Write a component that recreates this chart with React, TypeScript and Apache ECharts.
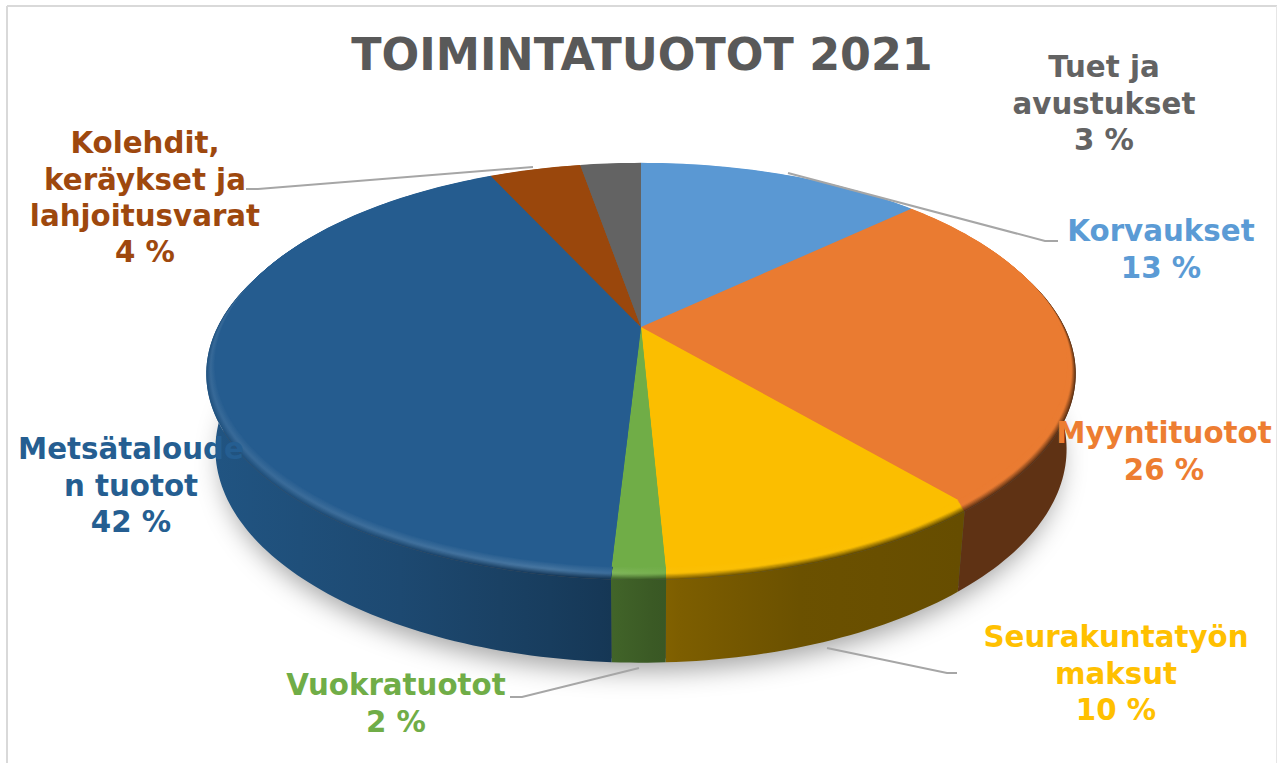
import React, { useEffect, useRef } from "react";
import * as echarts from "echarts";

const chartTitle = "TOIMINTATUOTOT 2021";
// clockwise from twelve o'clock
const categories = ["Korvaukset", "Myyntituotot", "Seurakuntatyön maksut", "Vuokratuotot", "Metsätalouden tuotot", "Kolehdit, keräykset ja lahjoitusvarat", "Tuet ja avustukset"];
const values = [13, 25.75, 10.49, 1.67, 42.19, 4.15, 2.75];
const percentLabels = [13, 26, 10, 2, 42, 4, 3];
const wrappedNames = ["Korvaukset", "Myyntituotot", "Seurakuntatyön\nmaksut", "Vuokratuotot", "Metsätaloude\nn tuotot", "Kolehdit,\nkeräykset ja\nlahjoitusvarat", "Tuet ja\navustukset"];
const colors = ["#5B9BD5", "#ED7D31", "#FFC000", "#70AD47", "#255E91", "#9E480E", "#636363"];
const faceColors = ["#5A98D3", "#EA7B31", "#FBBE00", "#70AD47", "#255C8F", "#9A470C", "#636363"];
const labelAnchors = [[1161, 213], [1164, 415], [1116, 619], [396, 667], [131, 431], [145, 125], [1104, 49]];
const leaders = [
  [[788, 173], [1045, 241], [1058, 241]],
  null,
  [[827, 648], [947, 673], [957, 673]],
  [[639, 668], [522, 697], [510, 697]],
  null,
  [[533, 167], [258, 189], [246, 189]],
  null,
];

// projection of the tilted disc
const CX = 641, CY = 327, K = 0.188;
const FACE = { a: 418.6, b: 195, cy: CY };
const BASE = { a: 418, b: 206, cy: 409 };
const RIM_GROW = 0.02, RIM_DROP = 8, LAYERS = 12;

const total = values.reduce((s, v) => s + v, 0);
const startOf = (i: number) => values.slice(0, i).reduce((s, v) => s + v, 0) / total * Math.PI * 2;

function project(theta: number, a: number, b: number, cy: number, rho = 1) {
  const u = Math.sin(theta), v = -Math.cos(theta);
  const s = 1 / (1 - K * v);
  return [CX + rho * a * u * s, cy + rho * b * v * s];
}
function arc(t0: number, t1: number, a: number, b: number, cy: number, rho = 1) {
  const n = Math.max(2, Math.ceil((t1 - t0) / 0.02));
  const pts: number[][] = [];
  for (let i = 0; i <= n; i++) pts.push(project(t0 + (t1 - t0) * i / n, a, b, cy, rho));
  return pts;
}

const rgb = (h: string) => [1, 3, 5].map((i) => parseInt(h.slice(i, i + 2), 16));
const mix = (c: number[], d: number[], t: number) => c.map((x, i) => x + (d[i] - x) * t);
const css = (c: number[]) => `rgb(${c.map(Math.round).join(",")})`;
const X0 = 200, X1 = 1085;
const wallShade = [[200, 0.9], [400, 0.78], [600, 0.6], [665, 0.5], [800, 0.42], [960, 0.4], [1085, 0.4]];
const lightStops = [[200, 0.08], [400, 0.12], [550, 0.16], [620, 0.1], [680, 0.02], [1085, 0]];
function interp(table: number[][], x: number) {
  for (let i = 1; i < table.length; i++) {
    if (x <= table[i][0]) {
      const t = (x - table[i - 1][0]) / (table[i][0] - table[i - 1][0]);
      return table[i - 1][1] + (table[i][1] - table[i - 1][1]) * t;
    }
  }
  return table[table.length - 1][1];
}
const gradient = (fn: (x: number) => number[]) => {
  const xs = [200, 300, 400, 500, 550, 600, 620, 650, 680, 740, 800, 880, 960, 1085];
  return new echarts.graphic.LinearGradient(X0, 0, X1, 0, xs.map((x) => ({ offset: (x - X0) / (X1 - X0), color: css(fn(x)) })), true);
};
const wallColor = (base: number[], x: number) => base.map((c) => c * interp(wallShade, x));
const rimColor = (base: number[], x: number, q: number) => {
  const lit = mix(base, [255, 255, 255], interp(lightStops, x));
  return q < 0.45 ? mix(wallColor(base, x), lit, q / 0.45) : mix(lit, base, (q - 0.45) / 0.55);
};

const renderShadow = () => ({
  type: "polygon",
  shape: { points: arc(0, Math.PI * 2, BASE.a, BASE.b, BASE.cy, 0.985) },
  style: { fill: "#555555", shadowBlur: 26, shadowColor: "rgba(0,0,0,0.36)", shadowOffsetY: 12 },
});

const renderWall = (_: any, api: any) => {
  const i = api.value(0);
  const t0 = startOf(i), t1 = startOf(i + 1);
  const base = rgb(colors[i]);
  const top = arc(t0, t1, FACE.a, FACE.b, FACE.cy + RIM_DROP, 1 + RIM_GROW);
  const bottom = arc(t0, t1, BASE.a, BASE.b, BASE.cy).reverse();
  return { type: "polygon", shape: { points: [...top, ...bottom] }, style: { fill: gradient((x) => wallColor(base, x)) } };
};

const renderRim = (_: any, api: any) => {
  const i = api.value(0);
  const t0 = startOf(i), t1 = startOf(i + 1);
  const base = rgb(faceColors[i]);
  const children: any[] = [];
  for (let l = 0; l < LAYERS; l++) {
    const q = l / LAYERS;
    const rho = 1 + RIM_GROW * (1 - q);
    const cy = FACE.cy + RIM_DROP * (1 - q);
    children.push({
      type: "polygon",
      shape: { points: [[CX, cy], ...arc(t0, t1, FACE.a, FACE.b, cy, rho)] },
      style: { fill: gradient((x) => rimColor(base, x, q)) },
    });
  }
  return { type: "group", children };
};

const renderFace = (_: any, api: any) => {
  const i = api.value(0);
  const t0 = startOf(i), t1 = startOf(i + 1);
  return {
    type: "polygon",
    shape: { points: [[CX, CY], ...arc(t0, t1, FACE.a, FACE.b, CY)] },
    style: { fill: faceColors[i] },
  };
};

const textItem = (text: string, x: number, y: number, font: string, fill: string, lineHeight?: number) => ({
  type: "text", z: 100, x, y,
  style: { text, font, fill, textAlign: "center", textVerticalAlign: "top", lineHeight },
});

export default function App() {
  const ref = useRef<HTMLDivElement>(null);
  useEffect(() => {
    document.body.style.margin = "0";
    const chart = echarts.init(ref.current!, null, { renderer: "svg" });
    const graphics: any[] = [
      { type: "line", z: 1, shape: { x1: 7, y1: 6, x2: 1277, y2: 6 }, style: { stroke: "#d9d9d9", lineWidth: 2 } },
      { type: "line", z: 1, shape: { x1: 7, y1: 6, x2: 7, y2: 763 }, style: { stroke: "#d9d9d9", lineWidth: 2 } },
      { type: "line", z: 1, shape: { x1: 1276.5, y1: 6, x2: 1276.5, y2: 763 }, style: { stroke: "#e6e6e6", lineWidth: 1 } },
      textItem(chartTitle, 642, 32, "bold 44.4px 'DejaVu Sans'", "#595959"),
    ];
    leaders.forEach((pts) => {
      if (pts) graphics.push({ type: "polyline", z: 90, shape: { points: pts }, style: { stroke: "#a6a6a6", lineWidth: 2, fill: "none" } });
    });
    wrappedNames.forEach((name, i) => {
      graphics.push(textItem(`${name}\n${percentLabels[i]} %`, labelAnchors[i][0], labelAnchors[i][1], "bold 29.3px 'DejaVu Sans'", colors[i], 36.4));
    });
    const items = values.map((v, i) => [i, v]);
    chart.setOption({
      animation: false,
      backgroundColor: "#ffffff",
      series: [
        { type: "custom", coordinateSystem: "none", silent: true, z: 1, renderItem: renderShadow, data: [[0, 0]] },
        { type: "custom", coordinateSystem: "none", silent: true, z: 2, renderItem: renderWall, data: items },
        { type: "custom", coordinateSystem: "none", silent: true, z: 3, renderItem: renderRim, data: items },
        { type: "custom", coordinateSystem: "none", silent: true, z: 4, renderItem: renderFace, data: items },
      ],
      graphic: graphics,
    });
    return () => chart.dispose();
  }, []);
  return <div ref={ref} style={{ position: "absolute", left: 0, top: 0, width: 1277, height: 763 }} />;
}
